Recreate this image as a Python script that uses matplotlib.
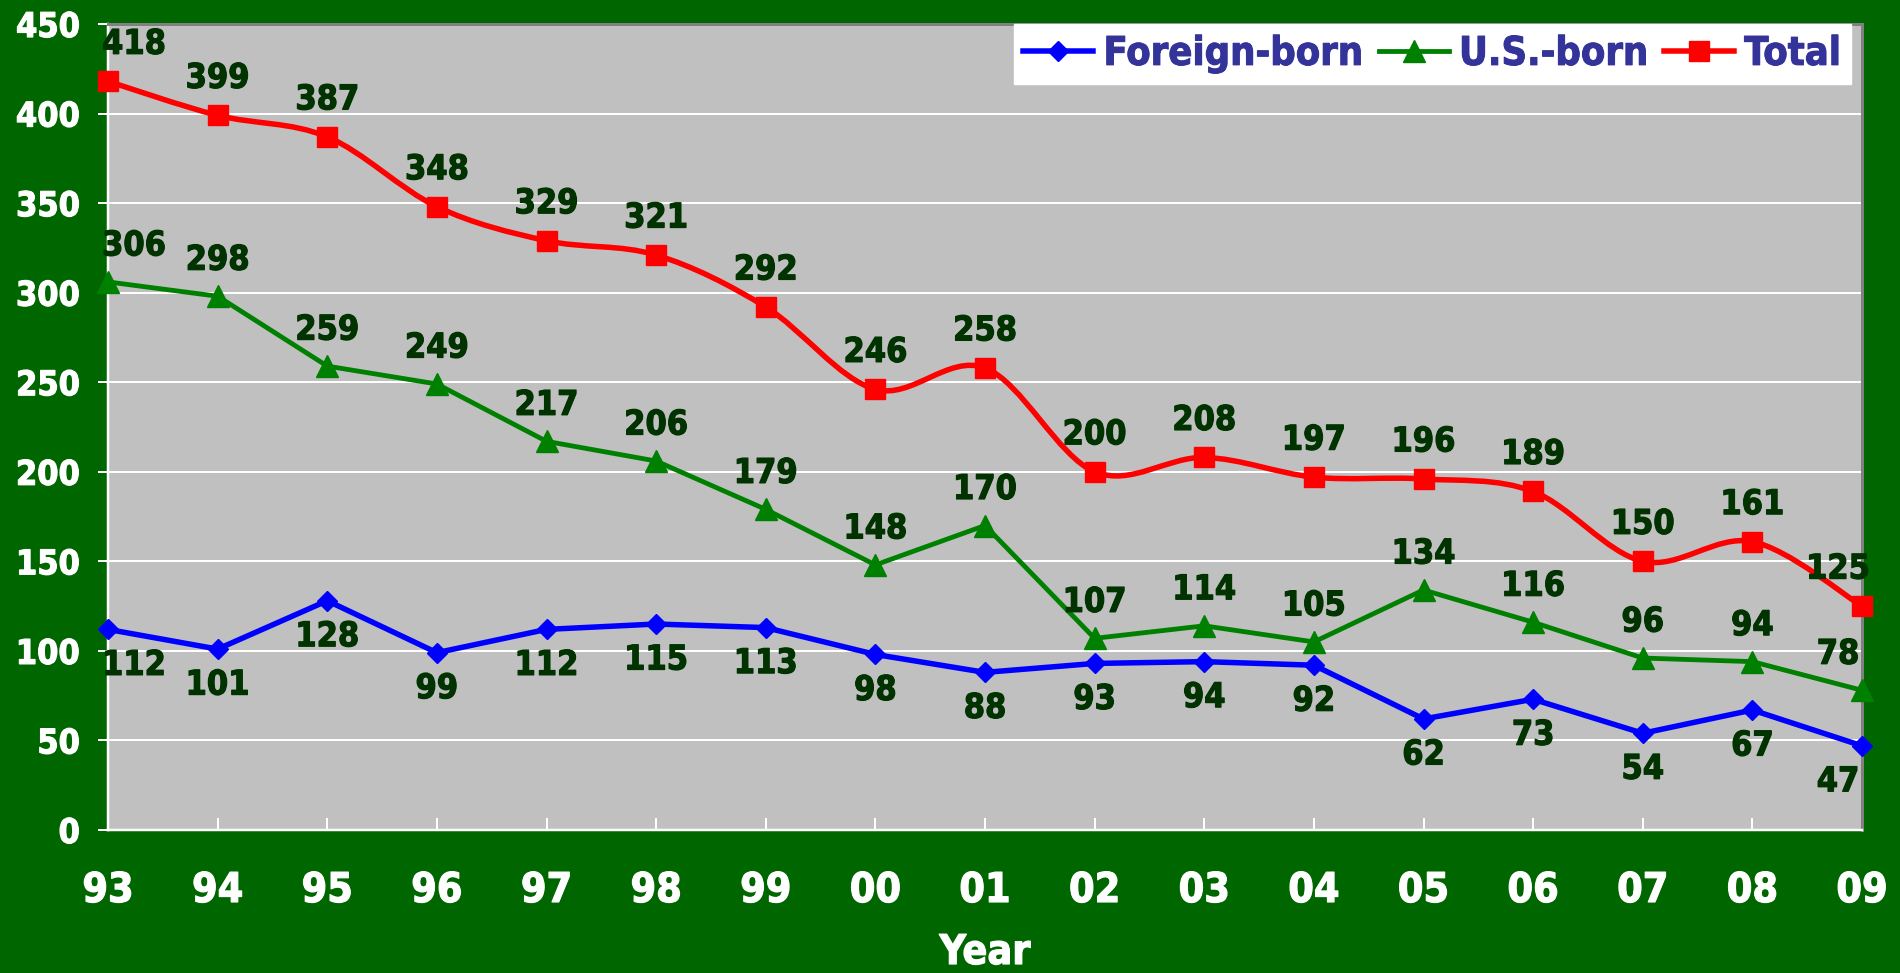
import numpy as np
import matplotlib
matplotlib.use('Agg')
import matplotlib.pyplot as plt
from matplotlib.path import Path
from matplotlib.patches import PathPatch
from matplotlib.lines import Line2D
from matplotlib import font_manager
import matplotlib.patheffects as pe

years = ['93', '94', '95', '96', '97', '98', '99', '00', '01', '02',
         '03', '04', '05', '06', '07', '08', '09']
foreign_born = [112, 101, 128, 99, 112, 115, 113, 98, 88, 93, 94, 92, 62, 73, 54, 67, 47]
us_born = [306, 298, 259, 249, 217, 206, 179, 148, 170, 107, 114, 105, 134, 116, 96, 94, 78]
total = [418, 399, 387, 348, 329, 321, 292, 246, 258, 200, 208, 197, 196, 189, 150, 161, 125]
series_names = ['Foreign-born', 'U.S.-born', 'Total']
y_ticks = list(range(0, 451, 50))

have_cond = any(f.name == 'DejaVu Sans' and f.stretch == 'condensed' and
                f.weight in ('bold', 700) for f in font_manager.fontManager.ttflist)
STRETCH = 'condensed' if have_cond else 'normal'
K = 1.0 if have_cond else 0.9   # size factor if only the wide face is available

plt.rcParams['font.family'] = ['DejaVu Sans']
plt.rcParams['font.weight'] = 'bold'
plt.rcParams['font.stretch'] = STRETCH

W, H, DPI = 1900, 973, 100
PX = 72.0 / DPI  # points per pixel

BG = '#006600'
PLOT_BG = '#C0C0C0'
LABEL_C = '#003300'
BLUE, GREEN, RED = '#0000FF', '#008000', '#FF0000'

def thick(color, w=1.2):
    return [pe.withStroke(linewidth=w * PX, foreground=color)]

fig = plt.figure(figsize=(W / DPI, H / DPI), dpi=DPI, facecolor=BG)
L, R, T, B = 108, 1862, 24, 830
ax = fig.add_axes([L / W, 1 - B / H, (R - L) / W, (B - T) / H])
ax.set_facecolor(PLOT_BG)

x = np.arange(len(years))
ax.set_xlim(0, len(years) - 1)
ax.set_ylim(0, 450)
ax.set_yticks(y_ticks)
ax.set_xticks(x)
ax.set_xticklabels(years)
ax.yaxis.grid(True, color='white', lw=2 * PX)
ax.set_axisbelow(True)

for s in ['left', 'bottom']:
    ax.spines[s].set_color('white')
    ax.spines[s].set_linewidth(2.5 * PX)
for s in ['top', 'right']:
    ax.spines[s].set_color('#808080')
    ax.spines[s].set_linewidth(3 * PX)

ax.tick_params(axis='y', direction='out', length=10 * PX, width=2 * PX,
               color='white', labelcolor='white', labelsize=24.5 * K, pad=13)
ax.tick_params(axis='x', direction='in', length=12 * PX, width=2 * PX,
               color='white', labelcolor='white', labelsize=29.5 * K, pad=29.5)
for lab in ax.get_xticklabels() + ax.get_yticklabels():
    lab.set_fontweight('bold')
    lab.set_fontstretch(STRETCH)
    lab.set_path_effects(thick('white'))

# Foreign-born and U.S.-born: straight lines
ax.plot(x, foreign_born, color=BLUE, lw=5.5 * PX, marker='D', ms=10,
        markeredgecolor=BLUE, zorder=3, clip_on=False)
ax.plot(x, us_born, color=GREEN, lw=4.8 * PX, marker='^', ms=16,
        markeredgecolor=GREEN, zorder=3, clip_on=False)

# Total: smoothed line (Bezier through the data points)
def smooth_path(xs, ys, t=1.0 / 6.0):
    pts = np.column_stack([xs, ys]).astype(float)
    n = len(pts)
    verts = [tuple(pts[0])]
    codes = [Path.MOVETO]
    for i in range(n - 1):
        p_prev = pts[i - 1] if i > 0 else pts[i]
        p0 = pts[i]
        p1 = pts[i + 1]
        p_next = pts[i + 2] if i + 2 < n else pts[i + 1]
        c1 = p0 + (p1 - p_prev) * t
        c2 = p1 - (p_next - p0) * t
        verts += [tuple(c1), tuple(c2), tuple(p1)]
        codes += [Path.CURVE4] * 3
    return Path(verts, codes)

ax.add_patch(PathPatch(smooth_path(x, total), facecolor='none', edgecolor=RED,
                       lw=5.5 * PX, zorder=3, capstyle='round', joinstyle='round'))
ax.plot(x, total, linestyle='none', marker='s', ms=15, color=RED,
        markeredgecolor=RED, zorder=4, clip_on=False)

# Data labels
def label_series(vals, dy_px):
    n = len(vals)
    for i, v in enumerate(vals):
        dx = 0
        if i == 0:
            dx = 26
        elif i == n - 1:
            dx = -24
        ax.annotate(str(v), (x[i], v), xytext=(dx * PX, dy_px * PX),
                    textcoords='offset points', ha='center', va='center',
                    fontsize=24.5 * K, fontweight='bold', fontstretch=STRETCH,
                    color=LABEL_C, zorder=6, annotation_clip=False,
                    path_effects=thick(LABEL_C))

label_series(foreign_born, -36)
label_series(us_born, 36)
label_series(total, 37)

# Legend
leg_fs = 28.5 * K
leg_prop = dict(family='DejaVu Sans', weight='bold', size=leg_fs, stretch=STRETCH)
handles = [
    Line2D([], [], color=BLUE, lw=5.5 * PX, marker='D', ms=10),
    Line2D([], [], color=GREEN, lw=4.8 * PX, marker='^', ms=16),
    Line2D([], [], color=RED, lw=5.5 * PX, marker='s', ms=15),
]
fs_px = leg_fs / PX
leg = ax.legend(handles, series_names, loc='upper right',
                bbox_to_anchor=((1851 - L) / (R - L), 1.0), borderaxespad=0,
                ncol=3, prop=leg_prop, frameon=True, fancybox=False,
                framealpha=1, facecolor='white', edgecolor='white',
                handlelength=70 / fs_px, handletextpad=10 / fs_px,
                columnspacing=16 / fs_px, borderpad=0.25)
for t in leg.get_texts():
    t.set_color('#333399')
    t.set_path_effects(thick('#333399', 1.0))
leg.set_zorder(10)

fig.text((L + R) / 2 / W, 1 - 933 / H, 'Year', ha='center', va='top',
         fontsize=29.5 * K, fontweight='bold', fontstretch=STRETCH, color='white',
         path_effects=thick('white'))

fig.savefig('out.png', dpi=DPI, facecolor=BG)
